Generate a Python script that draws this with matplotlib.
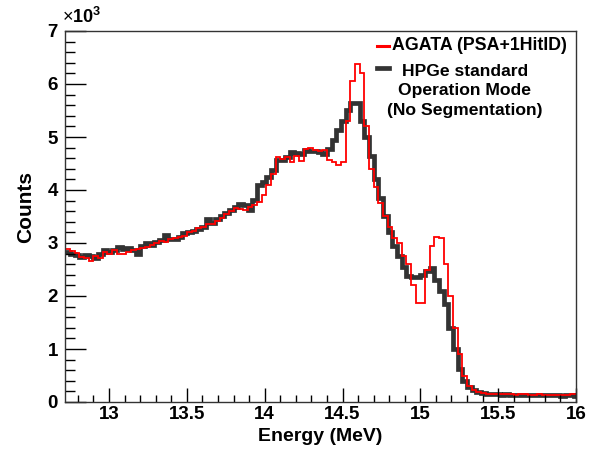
import numpy as np
import matplotlib
matplotlib.use("Agg")
import matplotlib.pyplot as plt
from matplotlib.ticker import MultipleLocator
from matplotlib.lines import Line2D

plt.rcParams['font.family'] = ['Liberation Sans', 'DejaVu Sans']
plt.rcParams['mathtext.fontset'] = 'custom'
plt.rcParams['mathtext.rm'] = 'Liberation Sans'
plt.rcParams['mathtext.bf'] = 'Liberation Sans:bold'

# Histogram binning (MeV)
bin_start = 12.72
bin_width = 0.03

# Counts in units of 10^3
agata = [2.88, 2.85, 2.82, 2.74, 2.72, 2.66, 2.76, 2.72, 2.83, 2.80,
         2.86, 2.80, 2.80, 2.83, 2.86, 2.89, 2.90, 2.92, 2.97, 3.00,
         3.04, 3.02, 3.07, 3.10, 3.12, 3.14, 3.20, 3.22, 3.28, 3.30,
         3.36, 3.35, 3.42, 3.47, 3.55, 3.60, 3.66, 3.64, 3.62, 3.67,
         3.72, 3.78, 3.90, 4.10, 4.30, 4.62, 4.58, 4.62, 4.53, 4.65,
         4.55, 4.78, 4.80, 4.75, 4.74, 4.75, 4.57, 4.52, 4.48, 4.52,
         5.30, 6.05, 6.38, 6.20, 5.20, 4.40, 4.05, 3.75, 3.50, 3.30,
         3.10, 3.00, 2.75, 2.60, 2.20, 1.87, 1.87, 2.50, 2.95, 3.12,
         3.10, 2.60, 2.00, 1.40, 0.90, 0.50, 0.30, 0.22, 0.19, 0.17,
         0.16, 0.16, 0.15, 0.15, 0.16, 0.15, 0.14, 0.15, 0.15, 0.14,
         0.14, 0.15, 0.14, 0.14, 0.13, 0.14, 0.13, 0.14, 0.15, 0.16]

hpge = [2.83, 2.80, 2.77, 2.74, 2.78, 2.75, 2.72, 2.80, 2.86, 2.83,
        2.86, 2.92, 2.88, 2.90, 2.86, 2.80, 2.95, 3.00, 2.97, 3.02,
        3.05, 3.15, 3.08, 3.08, 3.12, 3.18, 3.20, 3.23, 3.26, 3.30,
        3.45, 3.38, 3.45, 3.50, 3.56, 3.62, 3.68, 3.74, 3.72, 3.62,
        3.82, 4.10, 4.15, 4.25, 4.38, 4.57, 4.57, 4.62, 4.72, 4.70,
        4.68, 4.75, 4.74, 4.73, 4.72, 4.68, 4.78, 4.95, 5.13, 5.30,
        5.50, 5.65, 5.65, 5.30, 5.00, 4.65, 4.20, 3.85, 3.50, 3.20,
        2.95, 2.75, 2.55, 2.38, 2.35, 2.35, 2.40, 2.47, 2.52, 2.30,
        2.10, 1.85, 1.40, 1.00, 0.62, 0.40, 0.29, 0.23, 0.19, 0.17,
        0.16, 0.15, 0.15, 0.14, 0.15, 0.14, 0.14, 0.14, 0.13, 0.14,
        0.14, 0.13, 0.13, 0.14, 0.13, 0.13, 0.12, 0.13, 0.14, 0.12]

x_ticks = [13, 13.5, 14, 14.5, 15, 15.5, 16]
y_ticks = [0, 1, 2, 3, 4, 5, 6, 7]

label_agata = "AGATA (PSA+1HitID)"
label_hpge = "HPGe standard\nOperation Mode\n(No Segmentation)"

edges = bin_start + bin_width * np.arange(len(agata) + 1)
agata_c = np.array(agata) * 1000
hpge_c = np.array(hpge) * 1000

fig = plt.figure(figsize=(5.96, 4.51), dpi=100)
ax = fig.add_axes([65/596, 49/451, 511/596, 371/451])

ax.stairs(hpge_c, edges, baseline=None, color='#333333', linewidth=3.4)
ax.stairs(agata_c, edges, baseline=None, color='#ff0000', linewidth=1.3)

ax.set_xlim(12.717, 16.0)
ax.set_ylim(0, 7000)

ax.set_xticks(x_ticks)
ax.set_xticklabels([f"{t:g}" for t in x_ticks])
ax.xaxis.set_minor_locator(MultipleLocator(0.1))
ax.set_yticks([t * 1000 for t in y_ticks])
ax.set_yticklabels([str(t) for t in y_ticks])
ax.yaxis.set_minor_locator(MultipleLocator(200))

ax.tick_params(axis='x', which='major', direction='in', length=10, width=1,
               labelsize=13.5, pad=3, top=False)
ax.tick_params(axis='x', which='minor', direction='in', length=5, width=1, top=False)
ax.tick_params(axis='y', which='major', direction='in', length=15, width=1,
               labelsize=13.5, pad=5, right=False)
ax.tick_params(axis='y', which='minor', direction='in', length=7, width=1, right=False)
for lab in ax.get_xticklabels() + ax.get_yticklabels():
    lab.set_fontweight('bold')

for s in ax.spines.values():
    s.set_linewidth(1.0)
    s.set_color('#333333')

ax.set_xlabel("Energy (MeV)", fontsize=14, fontweight='bold')
ax.xaxis.set_label_coords(0.5, -0.092)
ax.xaxis.label.set_va('center')
ax.set_ylabel("Counts", fontsize=15, fontweight='bold')
ax.yaxis.set_label_coords(-0.078, 0.525)
ax.yaxis.label.set_va('center')

fig.text(62/596, 1 - 17/451, r"$\times$10$^{\mathbf{3}}$", fontsize=13, fontweight='bold',
         ha='left', va='center')

# legend drawn manually (axes fraction coordinates)
ax.add_line(Line2D([(377-65)/511, (389-65)/511], [(402-46)/371]*2, transform=ax.transAxes,
                   color='#ff0000', linewidth=2.2))
ax.text((392-65)/511, (402-46)/371, label_agata, transform=ax.transAxes,
        fontsize=12.8, fontweight='bold', ha='left', va='center')
ax.add_line(Line2D([(377-65)/511, (389-65)/511], [(402-68)/371]*2, transform=ax.transAxes,
                   color='#333333', linewidth=3.4))
ax.text((465-65)/511, (402-91)/371, label_hpge, transform=ax.transAxes,
        fontsize=12.6, fontweight='bold', ha='center', va='center', multialignment='center',
        linespacing=1.4)

fig.savefig("out.png", dpi=100)
